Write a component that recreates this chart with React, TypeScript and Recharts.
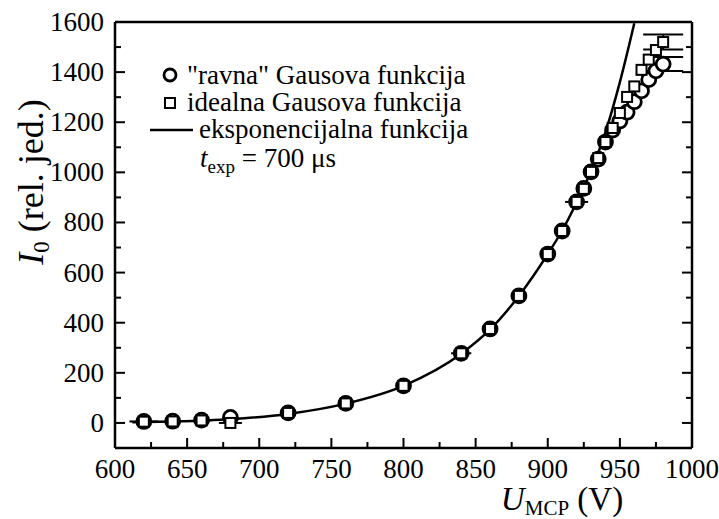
import { ComposedChart, XAxis, YAxis, Scatter, Line, ErrorBar } from "recharts";

const FONT = "Liberation Serif, DejaVu Serif, Times New Roman, serif";

// measurement voltages (V)
const voltages = [
  620, 640, 660, 680, 720, 760, 800, 840, 860, 880, 900, 910, 920, 925, 930,
  935, 940, 945, 950, 955, 960, 965, 970, 975, 980,
];

// "ravna" Gausova funkcija
const ravnaI0 = [
  6, 7, 11, 22, 40, 78, 148, 278, 375, 507, 674, 766, 882, 936, 1002, 1053,
  1121, 1169, 1205, 1240, 1282, 1325, 1370, 1405, 1432,
];
const ravnaErrX = [10, 0, 0, 0, 0, 0, 0, 7, 0, 0, 0, 0, 8, 0, 0, 0, 0, 0, 0, 0, 0, 0, 0, 0, 0];
const ravnaErrY = [0, 0, 0, 0, 0, 0, 0, 0, 0, 0, 0, 0, 0, 0, 0, 0, 0, 0, 0, 0, 0, 0, 0, 0, 28];

// idealna Gausova funkcija
const idealnaI0 = [
  5, 6, 10, 0, 40, 78, 148, 278, 375, 507, 674, 766, 882, 934, 1002, 1057,
  1121, 1177, 1237, 1301, 1343, 1409, 1450, 1488, 1520,
];
const idealnaErrX = [0, 0, 0, 8, 0, 0, 0, 0, 0, 0, 0, 0, 0, 0, 0, 0, 0, 0, 0, 0, 0, 0, 0, 0, 0];
const idealnaErrY = [0, 0, 0, 0, 0, 0, 0, 0, 0, 0, 0, 0, 0, 0, 0, 0, 0, 0, 0, 0, 0, 0, 0, 0, 30];

// eksponencijalna funkcija
const fitU = [612, 640, 680, 720, 760, 800, 840, 860, 880, 900, 910, 920, 930, 940, 950, 960];
const fitI0 = [3, 6, 15, 36, 77, 148, 276, 373, 507, 674, 768, 880, 1005, 1160, 1360, 1595];

const xTicks = [
  600, 625, 650, 675, 700, 725, 750, 775, 800, 825, 850, 875, 900, 925, 950, 975, 1000,
];
const yTicks = [
  0, 100, 200, 300, 400, 500, 600, 700, 800, 900, 1000, 1100, 1200, 1300, 1400, 1500, 1600,
];

const ravnaData = voltages.map((x, i) => ({ x, y: ravnaI0[i], ex: ravnaErrX[i], ey: ravnaErrY[i] }));
const idealnaData = voltages.map((x, i) => ({ x, y: idealnaI0[i], ex: idealnaErrX[i], ey: idealnaErrY[i] }));
const fitData = fitU.map((x, i) => ({ x, y: fitI0[i] }));

const makeTick = (side: string, showLabel: boolean, majorStep: number) => (props: any) => {
  const { x, y, payload } = props;
  const v = payload.value;
  const major = v % majorStep === 0;
  const len = major ? 10 : 6;
  let x2 = x;
  let y2 = y;
  if (side === "bottom") y2 = y - len;
  if (side === "top") y2 = y + len;
  if (side === "left") x2 = x + len;
  if (side === "right") x2 = x - len;
  return (
    <g>
      <line x1={x} y1={y} x2={x2} y2={y2} stroke="#000" strokeWidth={2} />
      {showLabel && major && side === "bottom" && (
        <text x={x} y={y + 30} textAnchor="middle" fontSize={27} style={{ fontFamily: FONT }} fill="#000">
          {v}
        </text>
      )}
      {showLabel && major && side === "left" && (
        <text x={x - 11} y={y + 9} textAnchor="end" fontSize={27} style={{ fontFamily: FONT }} fill="#000">
          {v}
        </text>
      )}
    </g>
  );
};

const circleShape = (p: any) => (
  <circle cx={p.cx} cy={p.cy} r={7} fill="#fff" stroke="#000" strokeWidth={2.8} />
);
const squareShape = (p: any) => (
  <rect x={p.cx - 5} y={p.cy - 5} width={10} height={10} fill="#fff" stroke="#000" strokeWidth={2} />
);

const axisLine = { stroke: "#000", strokeWidth: 2.5 };

export default function App() {
  return (
    <div style={{ position: "absolute", left: 0, top: 0, width: 719, height: 519, background: "#fff", fontFamily: FONT }}>
      <ComposedChart width={719} height={519} margin={{ top: 20, right: 25, bottom: 41, left: 55 }}>
        <XAxis
          dataKey="x"
          type="number"
          domain={[600, 1000]}
          ticks={xTicks}
          interval={0}
          tickSize={0}
          tickMargin={0}
          height={30}
          axisLine={axisLine}
          tickLine={false}
          tick={makeTick("bottom", true, 50)}
          allowDataOverflow
        />
        <XAxis
          xAxisId="top"
          orientation="top"
          type="number"
          domain={[600, 1000]}
          ticks={xTicks}
          interval={0}
          tickSize={0}
          tickMargin={0}
          height={2}
          axisLine={axisLine}
          tickLine={false}
          tick={makeTick("top", false, 50)}
          allowDataOverflow
        />
        <YAxis
          type="number"
          domain={[-100, 1600]}
          ticks={yTicks}
          interval={0}
          tickSize={0}
          tickMargin={0}
          width={60}
          axisLine={axisLine}
          tickLine={false}
          tick={makeTick("left", true, 200)}
          allowDataOverflow
        />
        <YAxis
          yAxisId="right"
          orientation="right"
          type="number"
          domain={[-100, 1600]}
          ticks={yTicks}
          interval={0}
          tickSize={0}
          tickMargin={0}
          width={2}
          axisLine={axisLine}
          tickLine={false}
          tick={makeTick("right", false, 200)}
          allowDataOverflow
        />
        <Line
          data={fitData}
          dataKey="y"
          type="monotone"
          stroke="#000"
          strokeWidth={2.5}
          dot={false}
          activeDot={false}
          isAnimationActive={false}
        />
        <Scatter data={ravnaData} dataKey="y" shape={circleShape} isAnimationActive={false}>
          <ErrorBar dataKey="ex" direction="x" width={0} stroke="#000" strokeWidth={2} />
          <ErrorBar dataKey="ey" direction="y" width={20} stroke="#000" strokeWidth={2} />
        </Scatter>
        <Scatter data={idealnaData} dataKey="y" shape={squareShape} isAnimationActive={false}>
          <ErrorBar dataKey="ex" direction="x" width={0} stroke="#000" strokeWidth={2} />
          <ErrorBar dataKey="ey" direction="y" width={20} stroke="#000" strokeWidth={2} />
        </Scatter>
      </ComposedChart>

      <svg
        width={719}
        height={519}
        style={{ position: "absolute", left: 0, top: 0, pointerEvents: "none", fontFamily: FONT }}
      >
        {/* legend */}
        <circle cx={170} cy={75} r={6} fill="#fff" stroke="#000" strokeWidth={2.8} />
        <text x={187} y={84} fontSize={27}>"ravna" Gausova funkcija</text>
        <rect x={165} y={98} width={10} height={10} fill="#fff" stroke="#000" strokeWidth={2} />
        <text x={187} y={111} fontSize={27}>idealna Gausova funkcija</text>
        <line x1={150} x2={193} y1={130} y2={130} stroke="#000" strokeWidth={2.5} />
        <text x={199} y={138} fontSize={27}>eksponencijalna funkcija</text>
        <text x={200} y={167} fontSize={27}>
          <tspan fontStyle="italic">t</tspan>
          <tspan fontSize={19} dy={6}>exp</tspan>
          <tspan dy={-6}> = 700 μs</tspan>
        </text>

        {/* axis titles */}
        <text x={562} y={510} fontSize={33} textAnchor="middle">
          <tspan fontStyle="italic">U</tspan>
          <tspan fontSize={21} dy={5}>MCP</tspan>
          <tspan dy={-5}> (V)</tspan>
        </text>
        <text x={43} y={182} fontSize={36} textAnchor="middle" transform="rotate(-90, 43, 182)">
          <tspan fontStyle="italic">I</tspan>
          <tspan fontSize={23} dy={6}>0</tspan>
          <tspan dy={-6}> (rel. jed.)</tspan>
        </text>
      </svg>
    </div>
  );
}
